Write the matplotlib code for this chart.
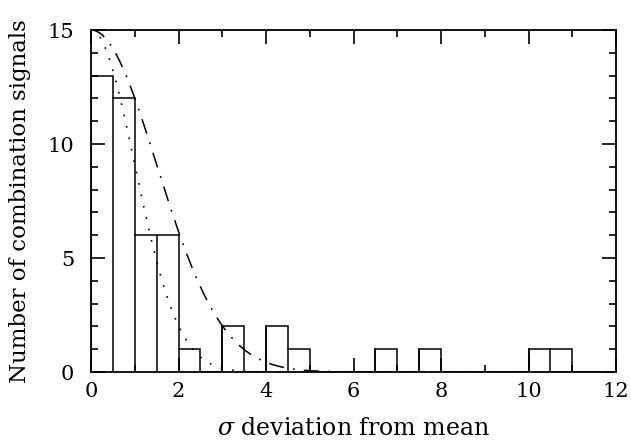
import numpy as np
import matplotlib.pyplot as plt
from matplotlib.ticker import MultipleLocator

# Histogram: bins of 0.5 sigma
bin_left = [0.0, 0.5, 1.0, 1.5, 2.0, 2.5, 3.0, 3.5, 4.0, 4.5, 5.0, 5.5,
            6.0, 6.5, 7.0, 7.5, 8.0, 8.5, 9.0, 9.5, 10.0, 10.5, 11.0, 11.5]
counts = [13, 12, 6, 6, 1, 0, 2, 0, 2, 1, 0, 0,
          0, 1, 0, 1, 0, 0, 0, 0, 1, 1, 0, 0]
bin_width = 0.5

# Gaussian model curves (peak height, width in sigma)
peak = 15.0
width_dotted = 1.0
width_dashdot = 1.5

plt.rcParams['font.family'] = ['DejaVu Serif']
plt.rcParams['mathtext.fontset'] = 'dejavuserif'

fig = plt.figure(figsize=(6.31, 4.44), dpi=100)
ax = fig.add_axes([91 / 631, 72 / 444, 525 / 631, 342 / 444])

edges = np.append(bin_left, bin_left[-1] + bin_width)
ax.stairs(counts, edges, color='black', linewidth=1.1)
for x, c in zip(bin_left, counts):
    if c > 0:
        ax.plot([x, x], [0, c], color='black', linewidth=1.1)

xs = np.linspace(0, 12, 600)
ax.plot(xs, peak * np.exp(-xs**2 / (2 * width_dotted**2)),
        color='black', linewidth=1.2, linestyle=(0, (1, 6)))
ax.plot(xs, peak * np.exp(-xs**2 / (2 * width_dashdot**2)),
        color='black', linewidth=1.1, linestyle=(0, (10, 6, 1.2, 6)))

ax.set_xlim(0, 12)
ax.set_ylim(0, 15)
ax.xaxis.set_major_locator(MultipleLocator(2))
ax.xaxis.set_minor_locator(MultipleLocator(1))
ax.yaxis.set_major_locator(MultipleLocator(5))
ax.yaxis.set_minor_locator(MultipleLocator(1))
ax.tick_params(which='both', direction='in', top=True, right=True,
               labelsize=15, width=1.2)
ax.tick_params(which='major', length=10, pad=7)
ax.tick_params(axis='y', which='major', pad=12)
ax.tick_params(which='minor', length=5)
for s in ax.spines.values():
    s.set_linewidth(1.3)

ax.set_xlabel(r'$\sigma$ deviation from mean', fontsize=17, labelpad=12)
ax.set_ylabel('Number of combination signals', fontsize=16.5, labelpad=12)

fig.savefig('out.png', dpi=100)
